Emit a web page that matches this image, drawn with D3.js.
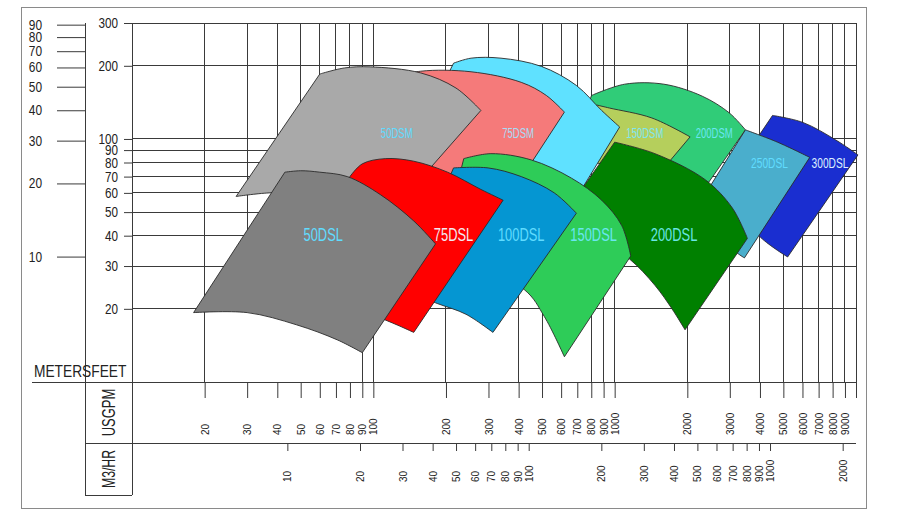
<!DOCTYPE html>
<html>
<head>
<meta charset="utf-8">
<script src="https://cdn.jsdelivr.net/npm/d3@7"></script>
<style>
    body { margin: 0; background: #fff; }
    svg text { font-family: 'Liberation Sans', Arial, sans-serif; }
</style>
</head>
<body>
<svg id="main"></svg>
<script>
const width = 900;
const height = 524;

// tick values of the four scales
const feetTicks = [20, 30, 40, 50, 60, 70, 80, 90, 100, 200, 300];
const meterTicks = [10, 20, 30, 40, 50, 60, 70, 80, 90];
const gpmTicks = [20, 30, 40, 50, 60, 70, 80, 90, 100, 200, 300, 400, 500, 600, 700, 800, 900, 1000,
    2000, 3000, 4000, 5000, 6000, 7000, 8000, 9000, 10000];
const m3Ticks = [10, 20, 30, 40, 50, 60, 70, 80, 90, 100, 200, 300, 400, 500, 600, 700, 800, 900, 1000, 2000];
// these vertical grid lines stop behind the curves and do not reach the baseline
const shortGridGpm = [30, 40, 50, 60, 70, 80, 300, 600, 700];
const shortGridFeet = 24;
const FT_PER_M = 3.281;
const GPM_PER_M3HR = 4.403;

// pump envelopes: [USGPM, feet], top and bottom edges from left to right
const top50DSM = [[60, 185], [76, 196], [97, 198], [157, 187], [220, 162], [279, 131]];
const bot50DSM = [[27, 58], [37, 60], [60, 60], [88, 57], [121, 51]];
const top75DSM = [[118, 178], [157, 190], [254, 189], [410, 171], [521, 151], [619, 129]];
const bot75DSM = [[73, 74], [157, 68], [358, 56]];
const top100DSM = [[215, 205], [254, 215], [338, 215], [496, 199], [694, 166], [883, 131], [1049, 112]];
const bot100DSM = [[157, 109], [338, 90], [631, 49]];
const top150DSM = [[841, 138], [953, 134], [1426, 122], [2054, 102]];
const bot150DSM = [[729, 82], [1511, 71]];
const top200DSM = [[802, 151], [1100, 168], [1600, 168], [2305, 150], [2985, 128], [3481, 109]];
const bot200DSM = [[662, 90], [1296, 74], [2093, 53]];

const top50DSL = [[43, 73], [50, 74], [60, 73], [78, 70], [107, 59], [147, 46], [181, 37]];
const bot50DSL = [[18, 19.3], [30, 19.3], [48, 17.2], [71, 14.9], [90, 13.2]];
const top75DSL = [[80, 70], [90, 79], [112, 83], [147, 81], [203, 73], [279, 62], [345, 56]];
const bot75DSL = [[50, 24], [112, 18], [147, 16]];
const top100DSL = [[215, 76], [299, 76], [410, 70], [562, 60], [694, 49.5]];
const bot100DSL = [[130, 24], [185, 21], [242, 19], [313, 16]];
const top150DSL = [[237, 83], [307, 87], [451, 82], [662, 69], [883, 56], [1070, 44], [1166, 33]];
const bot150DSL = [[190, 35], [422, 24], [511, 18.6], [619, 12.7]];
const top200DSL = [[1000, 97], [1468, 87], [2371, 68], [3073, 52], [3548, 39]];
const bot200DSL = [[536, 40], [883, 38], [1155, 32], [1468, 25], [1728, 20], [1957, 16.4]];
const top250DSL = [[3481, 109], [4730, 97], [6433, 84]];
const bot250DSL = [[2093, 48.6], [3224, 33.9], [3448, 32.4]];
const top300DSL = [[4510, 125], [6015, 117], [8250, 99], [10190, 86]];
const bot300DSL = [[2792, 61.6], [4020, 39.4], [5209, 32.7]];

// model names, back to front, and where each name is written [USGPM, feet]
const pumpNames = ['200DSM', '150DSM', '100DSM', '75DSM', '50DSM',
    '300DSL', '250DSL', '200DSL', '150DSL', '100DSL', '75DSL', '50DSL'];
const labelAt = [[2585, 105], [1334, 105], null, [398, 105], [125, 105],
    [7800, 80], [4380, 80], [1762, 40.6], [818, 40.6], [410, 40.6], [215, 40.6], [62, 40.6]];

// styles
const fillColors = ['#30cc78', '#b5cf5c', '#5fe1ff', '#f57a7a', '#a9a9a9',
    '#1a2ed0', '#4aaecc', '#008000', '#2ecc58', '#0596d2', '#ff0000', '#808080'];
const textColors = ['#6ae6f0', '#7ee6f0', '#6ae6f0', '#a8dcf5', '#60dcff',
    '#dceeff', '#60dcff', '#6ae6e6', '#6ae6f0', '#60dcff', '#f2eaf2', '#60dcff'];
const labelSizes = [14, 14, 14, 14, 14, 15, 15, 19, 19, 19, 19, 19];

const envelopes = [
    [top200DSM, bot200DSM], [top150DSM, bot150DSM], [top100DSM, bot100DSM], [top75DSM, bot75DSM], [top50DSM, bot50DSM],
    [top300DSL, bot300DSL], [top250DSL, bot250DSL], [top200DSL, bot200DSL], [top150DSL, bot150DSL],
    [top100DSL, bot100DSL], [top75DSL, bot75DSL], [top50DSL, bot50DSL]
];

const mainSvg = d3.select('#main').attr('width', width).attr('height', height);

// scales (log-log)
const xScale = d3.scaleLog().domain([10, 10000]).range([132, 856]);
const yScale = d3.scaleLog().domain([10, 300]).range([382, 23]);
const xM3 = d3.scaleLog().domain([10 / GPM_PER_M3HR, 10000 / GPM_PER_M3HR]).range([132, 856]);
const yM = d3.scaleLog().domain([10 / FT_PER_M, 300 / FT_PER_M]).range([382, 23]);

const x0 = xScale(10), x1 = xScale(10000);
const yTop = yScale(300), yBase = yScale(10);
const yM3 = 443, yEnd = 495, xMeter = 85;

// narrow lettering: squeeze each text horizontally around its anchor
function squeeze(sel, k) {
    sel.each(function () {
        const t = d3.select(this);
        const tx = +t.attr('x') || 0;
        const ty = +t.attr('y') || 0;
        t.attr('x', 0).attr('y', 0).attr('transform', `translate(${tx},${ty}) scale(${k},1)`);
    });
}

// frame
mainSvg.append('rect')
    .attr('x', 21.5).attr('y', 7.5).attr('width', 845).attr('height', 501)
    .attr('fill', 'none').attr('stroke', '#8a8a8a');

// grid
const grid = mainSvg.append('g').attr('stroke', '#3a3a3a').attr('stroke-width', 1).attr('shape-rendering', 'crispEdges');
grid.selectAll('.hline').data(feetTicks).join('line')
    .attr('class', 'hline')
    .attr('x1', x0).attr('x2', x1)
    .attr('y1', d => yScale(d)).attr('y2', d => yScale(d));
grid.selectAll('.vline').data(gpmTicks).join('line')
    .attr('class', 'vline')
    .attr('x1', d => xScale(d)).attr('x2', d => xScale(d))
    .attr('y1', yTop)
    .attr('y2', d => (shortGridGpm.includes(d) ? yScale(shortGridFeet) : yBase));
// axis frame lines
grid.append('line').attr('x1', x0).attr('x2', x0).attr('y1', yTop).attr('y2', yEnd);
grid.append('line').attr('x1', xMeter).attr('x2', xMeter).attr('y1', yTop).attr('y2', yEnd);
grid.append('line').attr('x1', 32).attr('x2', x1).attr('y1', yBase).attr('y2', yBase);
grid.append('line').attr('x1', xMeter).attr('x2', x1).attr('y1', yM3).attr('y2', yM3);
grid.append('line').attr('x1', xMeter).attr('x2', x0).attr('y1', yEnd).attr('y2', yEnd);

// envelopes
const line = d3.line()
    .x(d => xScale(d[0]))
    .y(d => yScale(d[1]))
    .curve(d3.curveCatmullRom.alpha(0.5));
function envelopePath(top, bottom) {
    const t = line(top);
    const b = line(bottom.slice().reverse());
    return t + 'L' + b.slice(1) + 'Z';
}
mainSvg.append('g')
    .selectAll('path')
    .data(envelopes)
    .join('path')
    .attr('d', d => envelopePath(d[0], d[1]))
    .attr('fill', (d, i) => fillColors[i])
    .attr('stroke', '#2a2a2a')
    .attr('stroke-width', 0.9);

// model names
const names = mainSvg.append('g')
    .selectAll('text')
    .data(pumpNames.map((name, i) => ({ name, i })).filter(d => labelAt[d.i]))
    .join('text')
    .attr('x', d => xScale(labelAt[d.i][0]))
    .attr('y', d => yScale(labelAt[d.i][1]))
    .attr('text-anchor', 'middle')
    .attr('dominant-baseline', 'central')
    .attr('font-size', d => labelSizes[d.i])
    .attr('fill', d => textColors[d.i])
    .text(d => d.name);
squeeze(names, 0.68);

// vertical axes
const feetAxis = mainSvg.append('g')
    .attr('transform', `translate(${x0},0)`)
    .call(d3.axisLeft(yScale).tickValues(feetTicks).tickFormat(d => d).tickSize(8).tickPadding(6));
const meterAxis = mainSvg.append('g')
    .attr('transform', `translate(${xMeter},0)`)
    .call(d3.axisLeft(yM).tickValues(meterTicks).tickFormat(d => d).tickSize(28).tickPadding(15));
[[feetAxis, 15, 0.78], [meterAxis, 14, 0.85]].forEach(([g, size, k]) => {
    g.select('.domain').remove();
    g.attr('font-family', null).attr('font-size', size);
    g.selectAll('line').attr('stroke', '#3a3a3a');
    g.selectAll('text').attr('fill', '#222').call(squeeze, k);
});

// horizontal axes
const gpmAxis = mainSvg.append('g')
    .attr('transform', `translate(0,${yBase})`)
    .call(d3.axisBottom(xScale).tickValues(gpmTicks).tickFormat(d => (d === 10000 ? '' : d)).tickSize(16));
const m3Axis = mainSvg.append('g')
    .attr('transform', `translate(0,${yM3})`)
    .call(d3.axisBottom(xM3).tickValues(m3Ticks).tickFormat(d => d).tickSize(8));
[[gpmAxis, 53], [m3Axis, 39]].forEach(([g, off]) => {
    g.select('.domain').remove();
    g.attr('font-family', null).attr('font-size', 10);
    g.selectAll('line').attr('stroke', '#3a3a3a');
    g.selectAll('text')
        .attr('fill', '#222')
        .attr('transform', 'rotate(-90)')
        .attr('text-anchor', 'start')
        .attr('x', -off)
        .attr('y', 0)
        .attr('dy', '0.36em');
});

// axis titles
const titles = mainSvg.append('g').attr('fill', '#222');
titles.append('text')
    .attr('transform', 'translate(34,377) scale(0.86,1)')
    .attr('font-size', 16)
    .text('METERSFEET');
titles.append('text')
    .attr('transform', `translate(${(xMeter + x0) / 2},${(yBase + yM3) / 2}) rotate(-90) scale(0.72,1)`)
    .attr('font-size', 18)
    .attr('text-anchor', 'middle').attr('dominant-baseline', 'central')
    .text('USGPM');
titles.append('text')
    .attr('transform', `translate(${(xMeter + x0) / 2},${(yM3 + yEnd) / 2}) rotate(-90) scale(0.68,1)`)
    .attr('font-size', 18)
    .attr('text-anchor', 'middle').attr('dominant-baseline', 'central')
    .text('M3/HR');
</script>
</body>
</html>
